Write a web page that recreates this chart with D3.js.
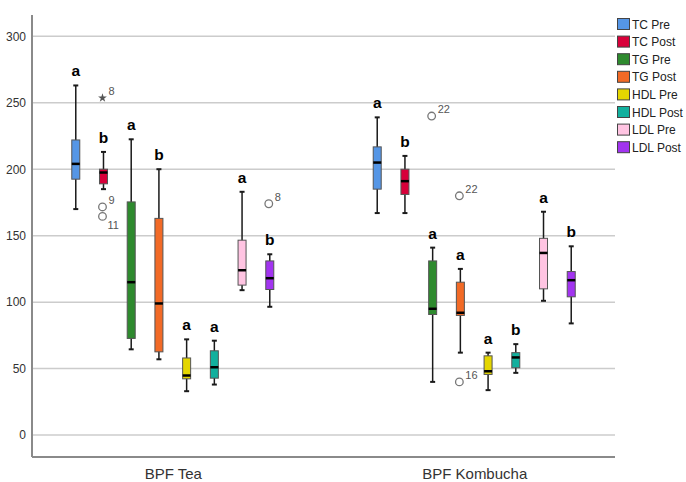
<!DOCTYPE html>
<html><head><meta charset="utf-8">
<script src="https://cdn.jsdelivr.net/npm/d3@7/dist/d3.min.js"></script>
<style>
html,body{margin:0;padding:0;background:#fff;}
svg{display:block;font-family:"Liberation Sans",Arial,sans-serif;}
</style></head>
<body>
<svg id="chart" width="686" height="482"></svg>
<script>
const groups = ["BPF Tea", "BPF Kombucha"];
const series = ["TC Pre", "TC Post", "TG Pre", "TG Post", "HDL Pre", "HDL Post", "LDL Pre", "LDL Post"];
const colors = ["#5596e6", "#d8003a", "#2e8a2e", "#f26a26", "#e4d600", "#12b09e", "#ffc4e2", "#a234f0"];
const yTicks = [0, 50, 100, 150, 200, 250, 300];

// [whiskerLow, q1, median, q3, whiskerHigh] per series
const teaStats = [
  [170, 192.5, 204, 222, 263],
  [185, 189, 197.5, 200, 213],
  [64.5, 72.7, 115, 175.4, 222.5],
  [57, 62.6, 99, 163, 200],
  [33, 42.3, 44.8, 58, 72],
  [38, 42.8, 51, 63.4, 71],
  [109, 112.8, 124, 146.6, 183],
  [96.5, 109.5, 118, 131, 136]
];
const kombuchaStats = [
  [167, 185, 205, 216.8, 239],
  [167, 181, 191, 200, 210],
  [40, 90.7, 95, 131, 141],
  [62, 90, 92, 115, 125],
  [33.8, 45.6, 48, 59.6, 62],
  [46.8, 50.6, 58.4, 62, 68.4],
  [101, 110, 137, 148, 168],
  [84, 104, 116.5, 123, 142]
];
const teaLetters = ["a", "b", "a", "b", "a", "a", "a", "b"];
const kombuchaLetters = ["a", "b", "a", "a", "a", "b", "a", "b"];

// outliers: group, series, value, case label, kind
const outGroup =  ["BPF Tea", "BPF Tea", "BPF Tea", "BPF Tea", "BPF Kombucha", "BPF Kombucha", "BPF Kombucha"];
const outSeries = ["TC Post", "TC Post", "TC Post", "LDL Post", "TG Pre", "TG Post", "TG Post"];
const outValue =  [253.6, 171.6, 164.5, 174, 240, 180, 40];
const outLabel =  ["8", "9", "11", "8", "22", "22", "16"];
const outKind =   ["star", "circle", "circle", "circle", "circle", "circle", "circle"];

const svg = d3.select("#chart");
const plotL = 32, plotR = 615, plotT = 15, plotB = 457;

const y = d3.scaleLinear().domain([-16.5, 316]).range([plotB, plotT]);
const x = d3.scalePoint().domain(groups).range([plotL, plotR]).padding(0.467);
const xs = d3.scalePoint().domain(series).range([-97, 97]);
const color = d3.scaleOrdinal().domain(series).range(colors);

// gridlines
svg.append("g").selectAll("line").data(yTicks).join("line")
  .attr("x1", plotL).attr("x2", plotR)
  .attr("y1", d => y(d)).attr("y2", d => y(d))
  .attr("stroke", "#cccccc").attr("stroke-width", 1.5);

// y axis
const yAxis = svg.append("g").attr("transform", `translate(${plotL},0)`)
  .call(d3.axisLeft(y).tickValues(yTicks).tickSize(0).tickPadding(6));
yAxis.select(".domain").remove();
yAxis.selectAll("text").attr("font-size", 12).attr("fill", "#333")
  .attr("font-family", "Liberation Sans, Arial, sans-serif");

// x axis
const xAxis = svg.append("g").attr("transform", `translate(0,${plotB})`)
  .call(d3.axisBottom(x).tickSize(0).tickPadding(11));
xAxis.select(".domain").remove();
xAxis.selectAll("text").attr("font-size", 15).attr("fill", "#333")
  .attr("font-family", "Liberation Sans, Arial, sans-serif");

// axis lines
svg.append("line").attr("x1", plotL).attr("x2", plotL).attr("y1", plotT).attr("y2", plotB)
  .attr("stroke", "#8a8a8a").attr("stroke-width", 2);
svg.append("line").attr("x1", plotL).attr("x2", plotR).attr("y1", plotB).attr("y2", plotB)
  .attr("stroke", "#8a8a8a").attr("stroke-width", 2);

const boxes = [];
groups.forEach((g, gi) => {
  const stats = gi === 0 ? teaStats : kombuchaStats;
  const letters = gi === 0 ? teaLetters : kombuchaLetters;
  series.forEach((s, si) => {
    const [lo, q1, med, q3, hi] = stats[si];
    boxes.push({g, s, lo, q1, med, q3, hi, letter: letters[si], cx: x(g) + xs(s)});
  });
});

const bw = 8, cw = 5;
const bg = svg.append("g").selectAll("g").data(boxes).join("g");
bg.append("line").attr("x1", d => d.cx).attr("x2", d => d.cx)
  .attr("y1", d => y(d.hi)).attr("y2", d => y(d.lo))
  .attr("stroke", "#1a1a1a").attr("stroke-width", 1.5);
bg.append("line").attr("x1", d => d.cx - cw / 2).attr("x2", d => d.cx + cw / 2)
  .attr("y1", d => y(d.hi)).attr("y2", d => y(d.hi))
  .attr("stroke", "#1a1a1a").attr("stroke-width", 2);
bg.append("line").attr("x1", d => d.cx - cw / 2).attr("x2", d => d.cx + cw / 2)
  .attr("y1", d => y(d.lo)).attr("y2", d => y(d.lo))
  .attr("stroke", "#1a1a1a").attr("stroke-width", 2);
bg.append("rect").attr("x", d => d.cx - bw / 2).attr("width", bw)
  .attr("y", d => y(d.q3)).attr("height", d => y(d.q1) - y(d.q3))
  .attr("fill", d => color(d.s)).attr("stroke", "#555").attr("stroke-width", 1);
bg.append("line").attr("x1", d => d.cx - bw / 2).attr("x2", d => d.cx + bw / 2)
  .attr("y1", d => y(d.med)).attr("y2", d => y(d.med))
  .attr("stroke", "#000").attr("stroke-width", 2.5);
bg.append("text").attr("x", d => d.cx).attr("y", d => y(d.hi) - 9)
  .attr("text-anchor", "middle").attr("font-size", 15.5).attr("font-weight", "bold")
  .attr("fill", "#000").text(d => d.letter);

// outliers
const outs = outValue.map((v, i) => ({g: outGroup[i], s: outSeries[i], v, label: outLabel[i], kind: outKind[i],
  cx: x(outGroup[i]) + xs(outSeries[i]), cy: y(v)}));
outs.forEach((o, i) => {
  // label goes below when another outlier of the same box sits just above it
  o.below = outs.some((p, j) => j !== i && p.g === o.g && p.s === o.s && p.cy < o.cy && o.cy - p.cy < 14);
});
const og = svg.append("g");
og.selectAll("circle").data(outs.filter(o => o.kind === "circle")).join("circle")
  .attr("cx", d => d.cx - 1).attr("cy", d => d.cy).attr("r", 3.8)
  .attr("fill", "#fff").attr("stroke", "#777").attr("stroke-width", 1.3);
og.selectAll("path").data(outs.filter(o => o.kind === "star")).join("path")
  .attr("transform", d => `translate(${d.cx - 1},${d.cy})`)
  .attr("d", d3.symbol().type(d3.symbolStar).size(24)).attr("fill", "#555");
og.selectAll("text").data(outs).join("text")
  .attr("x", d => d.cx + (d.below ? 4 : 5))
  .attr("y", d => d.below ? d.cy + 13 : d.cy - 3)
  .attr("font-size", 11).attr("fill", "#555").text(d => d.label);

// legend
const lg = svg.append("g").attr("transform", "translate(617,18)");
const li = lg.selectAll("g").data(series).join("g").attr("transform", (d, i) => `translate(0,${i * 17.6})`);
li.append("rect").attr("width", 12).attr("height", 11).attr("x", 0.5).attr("y", 0.5)
  .attr("fill", d => color(d)).attr("stroke", "#444").attr("stroke-width", 1);
li.append("text").attr("x", 15).attr("y", 10.5).attr("font-size", 12).attr("fill", "#222").text(d => d);
</script>
</body></html>
